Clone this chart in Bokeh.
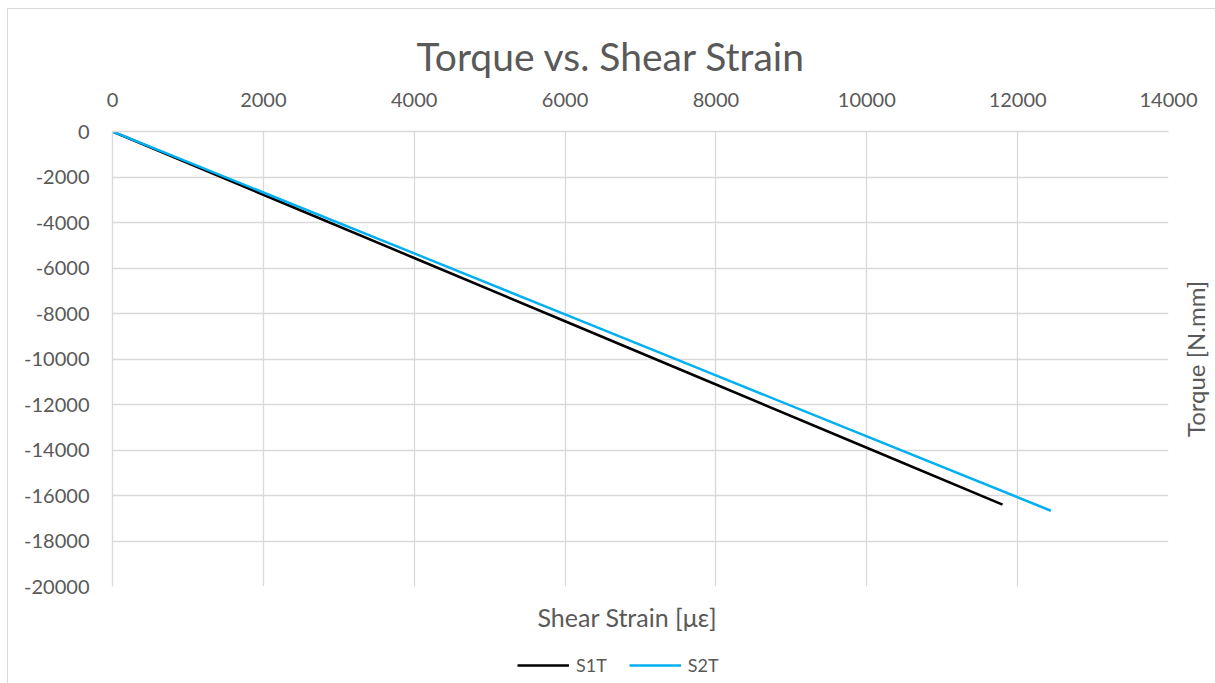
import math
from bokeh.plotting import figure
from bokeh.layouts import column, row
from bokeh.models import FixedTicker, Legend, LegendItem, Range1d, Title
from bokeh.embed import file_html
from bokeh.resources import INLINE

# data
s1t_strain = [0, 2000, 4000, 6000, 8000, 10000, 11800]
s1t_torque = [0, -2780, -5560, -8340, -11120, -13900, -16400]
s2t_strain = [0, 2000, 4000, 6000, 8000, 10000, 12440]
s2t_torque = [0, -2680, -5360, -8040, -10720, -13400, -16670]

x_ticks = [0, 2000, 4000, 6000, 8000, 10000, 12000, 14000]
y_ticks = [0, -2000, -4000, -6000, -8000, -10000, -12000, -14000, -16000, -18000, -20000]

FONT = "Lato"
TXT = "#595959"
GRID = "#d9d9d9"
BLUE = "#00b0f0"

p = figure(width=1207, height=636, x_range=Range1d(0, 14000), y_range=Range1d(-20000, 0),
           x_axis_location="above", output_backend="svg", toolbar_location=None,
           min_border_left=104, min_border_right=47, min_border_top=122, min_border_bottom=59,
           title="Torque vs. Shear Strain")
p.outline_line_color = None
p.background_fill_color = "white"
p.border_fill_color = "white"

p.title.text_font = FONT
p.title.text_font_size = "39px"
p.title.text_font_style = "normal"
p.title.text_color = TXT
p.title.align = "left"
p.title.offset = 304
p.title.standoff = 22

for ax in p.xaxis + p.yaxis:
    ax.major_tick_line_color = None
    ax.minor_tick_line_color = None
    ax.axis_line_color = GRID
    ax.axis_line_width = 1.3
    ax.major_label_text_font = FONT
    ax.major_label_text_font_size = "20px"
    ax.major_label_text_color = TXT
p.xaxis.ticker = FixedTicker(ticks=x_ticks)
p.yaxis.ticker = FixedTicker(ticks=y_ticks)
p.yaxis.major_label_overrides = {t: str(t) for t in y_ticks}
p.xaxis.major_label_standoff = 19
p.yaxis.major_label_standoff = 17

p.xgrid.ticker = FixedTicker(ticks=x_ticks)
p.ygrid.ticker = FixedTicker(ticks=y_ticks)
p.grid.grid_line_color = GRID
p.grid.grid_line_width = 1.3

r1 = p.line(s1t_strain, s1t_torque, line_color="black", line_width=2.5)
r2 = p.line(s2t_strain, s2t_torque, line_color=BLUE, line_width=2.5)

# bottom axis title
xt = Title(text="Shear Strain [με]", align="left", offset=425, standoff=26,
           text_font=FONT, text_font_size="25px", text_font_style="normal", text_color=TXT)
p.add_layout(xt, "below")

# right axis title: transparent narrow figure overlapping the right margin of p
rf = figure(width=47, height=636, x_range=Range1d(0, 1), y_range=Range1d(0, 1),
            output_backend="svg", toolbar_location=None,
            min_border_left=46, min_border_right=0, min_border_top=122, min_border_bottom=59)
rf.margin = (0, 0, 0, -47)
rf.background_fill_alpha = 0
rf.border_fill_alpha = 0
rf.xaxis.visible = False
rf.grid.visible = False
rf.outline_line_color = None
rf.yaxis.ticker = FixedTicker(ticks=[])
rf.yaxis.axis_line_color = None
rf.yaxis.major_tick_line_color = None
rf.yaxis.minor_tick_line_color = None
rf.yaxis.axis_label = "Torque [N.mm]"
rf.yaxis.axis_label_text_font = FONT
rf.yaxis.axis_label_text_font_size = "24px"
rf.yaxis.axis_label_text_font_style = "normal"
rf.yaxis.axis_label_text_color = TXT
rf.yaxis.axis_label_standoff = 5

# legend strip
lf = figure(width=1207, height=38, x_range=Range1d(-2, -1), y_range=Range1d(1, 2),
            output_backend="svg", toolbar_location=None,
            min_border_left=104, min_border_right=47, min_border_top=0, min_border_bottom=0)
lf.axis.visible = False
lf.grid.visible = False
lf.outline_line_color = None
l1 = lf.line(s1t_strain, s1t_torque, line_color="black", line_width=2.5)
l2 = lf.line(s2t_strain, s2t_torque, line_color=BLUE, line_width=2.5)
legend = Legend(items=[LegendItem(label="S1T", renderers=[l1]), LegendItem(label="S2T", renderers=[l2])],
                orientation="horizontal", location=(405, 7))
legend.label_text_font = FONT
legend.label_text_font_size = "18px"
legend.label_text_color = TXT
legend.border_line_color = None
legend.background_fill_alpha = 0
legend.glyph_width = 52
legend.glyph_height = 22
legend.label_height = 22
legend.spacing = 22
legend.label_standoff = 7
legend.padding = 0
legend.margin = 0
lf.add_layout(legend)

layout = column(row(p, rf, spacing=0), lf, spacing=0,
                styles={"margin-left": "7px", "margin-top": "8px",
                        "border-left": "1px solid #d9d9d9", "border-top": "1px solid #d9d9d9"})

open("out.html", "w").write(file_html(layout, INLINE))
